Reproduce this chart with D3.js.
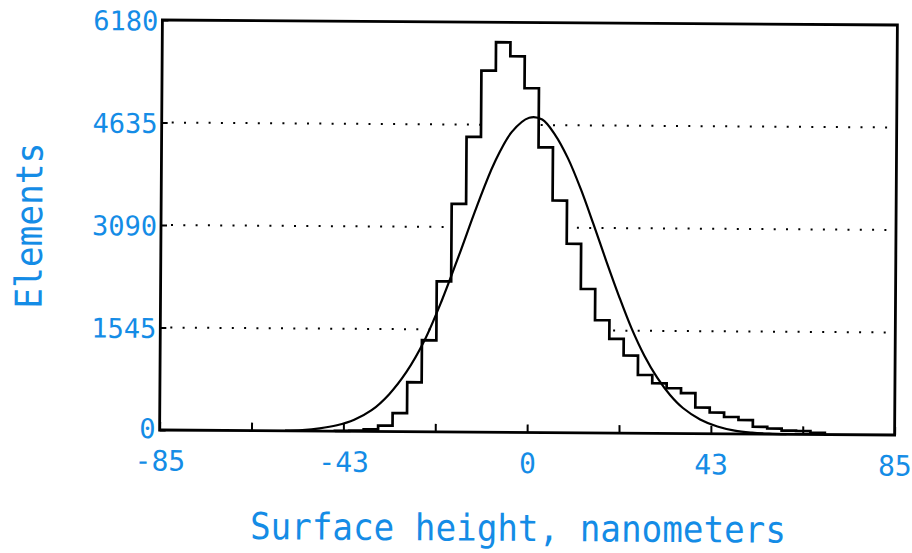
<!DOCTYPE html>
<html>
<head>
<meta charset="utf-8">
<script src="https://cdn.jsdelivr.net/npm/d3@7"></script>
<style>
  body { margin: 0; background: #fff; }
  svg { display: block; }
  .lbl { font-family: 'DejaVu Sans Mono', monospace; fill: #148ce6; }
</style>
</head>
<body>
<svg id="chart"></svg>
<script>
// axis ticks
const xTicks      = [-85, -63.75, -42.5, -21.25, 0, 21.25, 42.5, 63.75, 85];
const xTickLabels = ['-85', '', '-43', '', '0', '', '43', '', '85'];
const yTicks      = [0, 1545, 3090, 4635, 6180];
const gridTicks   = [1545, 3090, 4635];

// histogram: bins of equal width, counts
const binStart  = -44.47;
const binWidth  = 10 / 3;
const binCounts = [5, 12, 32, 90, 280, 746, 1380, 2270, 3440, 4450,
                   5450, 5880, 5670, 5190, 4300, 3500, 2850, 2170, 1700, 1420,
                   1170, 880, 755, 683, 610, 395, 320, 255, 210, 110,
                   85, 55, 50, 25];

// fitted curve, sampled by eye
const curveX = [-56, -52, -48, -44, -40, -36, -32, -28, -24, -20, -16, -12, -8, -4, 0,
                3, 6, 9, 12, 15, 18, 21, 24, 27, 30, 33, 36, 40, 44, 48, 52, 56, 60];
const curveY = [3, 15, 42, 90, 175, 320, 560, 900, 1360, 1970, 2670, 3400, 4060, 4530, 4745,
                4720, 4490, 4140, 3680, 3150, 2600, 2070, 1580, 1170, 840, 580, 385, 215, 110, 50, 22, 8, 0];

const W = 912, H = 553;
const box = { l: 161, r: 896, t: 22.5, b: 432.5 };

const svg = d3.select('#chart').attr('width', W).attr('height', H);
// the original is a slightly skewed scan
const g = svg.append('g').attr('transform', 'rotate(0.39,528,228)');

const x = d3.scaleLinear().domain([-85, 85]).range([box.l, box.r]);
const y = d3.scaleLinear().domain([0, 6180]).range([box.b, box.t]);

// dotted grid
g.selectAll('.grid').data(gridTicks).join('line')
    .attr('class', 'grid')
    .attr('x1', box.l + 10).attr('x2', box.r - 2)
    .attr('y1', d => y(d)).attr('y2', d => y(d))
    .attr('stroke', '#000').attr('stroke-width', 2)
    .attr('stroke-dasharray', '2 10.3');

// histogram outline points
const histPts = [[binStart, 0]];
binCounts.forEach((c, i) => {
    const lo = binStart + i * binWidth;
    histPts.push([lo, c], [lo + binWidth, c]);
});
histPts.push([binStart + binCounts.length * binWidth, 0]);

const area = d3.area()
    .x(d => x(d[0]))
    .y0(y(0))
    .y1(d => y(d[1]));
const line = d3.line()
    .x(d => x(d[0]))
    .y(d => y(d[1]));

// white under the bars hides the grid there
g.append('path').attr('d', area(histPts)).attr('fill', '#fff');

const curvePts = curveX.map((v, i) => [v, curveY[i]]);
g.append('path')
    .attr('d', d3.line().curve(d3.curveCatmullRom.alpha(0.5))
        .x(d => x(d[0])).y(d => y(d[1]))(curvePts))
    .attr('fill', 'none').attr('stroke', '#000').attr('stroke-width', 2.2);

g.append('path')
    .attr('d', line(histPts))
    .attr('fill', 'none').attr('stroke', '#000').attr('stroke-width', 2.7);

// axes
const xAxis = d3.axisBottom(x)
    .tickValues(xTicks)
    .tickSizeInner(-8).tickSizeOuter(0)
    .tickFormat((d, i) => xTickLabels[i]);
const yAxis = d3.axisLeft(y)
    .tickValues(yTicks)
    .tickSizeInner(-6).tickSizeOuter(0)
    .tickPadding(4)
    .tickFormat(d3.format('d'));

const gx = g.append('g').attr('transform', `translate(0,${box.b})`).call(xAxis);
const gy = g.append('g').attr('transform', `translate(${box.l},0)`).call(yAxis);

[gx, gy].forEach(a => {
    a.select('.domain').remove();
    a.selectAll('.tick line').attr('stroke', '#000').attr('stroke-width', 2);
    a.selectAll('text').attr('class', 'lbl').attr('font-size', 27);
});
gx.selectAll('text').attr('y', 0).attr('dy', 40.5).attr('font-size', 28);
gy.selectAll('text').attr('dy', d => d === 0 ? '0.28em' : '0.37em');

// frame
g.append('rect')
    .attr('x', box.l).attr('y', box.t)
    .attr('width', box.r - box.l).attr('height', box.b - box.t)
    .attr('fill', 'none').attr('stroke', '#000').attr('stroke-width', 2.8);

// titles
g.append('text').attr('class', 'lbl')
    .attr('x', 520).attr('y', 541)
    .attr('font-size', 37)
    .attr('text-anchor', 'middle')
    .attr('textLength', 536).attr('lengthAdjust', 'spacingAndGlyphs')
    .text('Surface height, nanometers');

g.append('text').attr('class', 'lbl')
    .attr('transform', 'translate(42,229) rotate(-90)')
    .attr('font-size', 37)
    .attr('text-anchor', 'middle')
    .attr('textLength', 166).attr('lengthAdjust', 'spacingAndGlyphs')
    .text('Elements');
</script>
</body>
</html>
